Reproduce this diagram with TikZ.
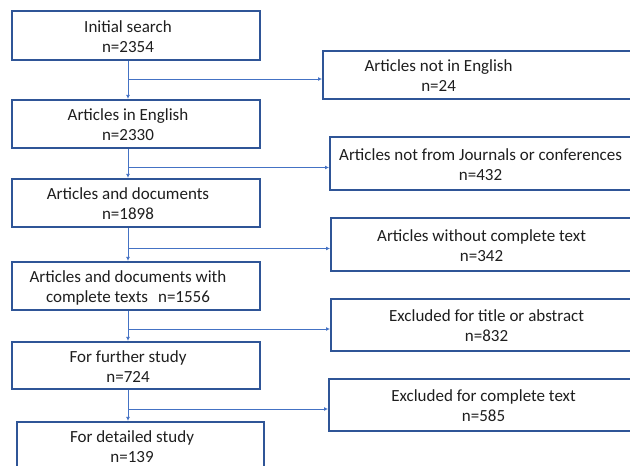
\documentclass[tikz,border=0pt]{standalone}
\usepackage{fontspec}
\setmainfont{Carlito}
\usetikzlibrary{arrows.meta}
\definecolor{boxblue}{RGB}{47,85,151}
\definecolor{lineblue}{RGB}{68,114,196}
\definecolor{ink}{RGB}{30,30,30}
\newcommand{\lines}[2]{\hspace*{#1}\raisebox{-2.5pt}[\height][\depth]{\begin{tabular}{@{}c@{}}#2\end{tabular}}}

\begin{document}
\begin{tikzpicture}[x=1pt, y=-1pt,
  stage/.style={draw=boxblue, line width=2.2pt, minimum width=248pt, minimum height=48pt,
    inner sep=0pt, font=\fontsize{17}{20}\selectfont, text=ink},
  drop/.style={stage, anchor=west, minimum width=315pt, minimum height=52pt},
  conn/.style={lineblue, line width=0.8pt, -{Latex[length=4pt,width=4pt]}}]
  \useasboundingbox (0,0) rectangle (630,466);
  \clip (0,0) rectangle (630,466);

  % Stages kept for the review
  \node[stage, minimum height=49pt] (b1) at (136,35.5) {\lines{-16pt}{Initial search\\n=2354}};
  \node[stage] (b2) at (136,124) {\lines{-16pt}{Articles in English\\n=2330}};
  \node[stage] (b3) at (136,203) {\lines{-16pt}{Articles and documents\\n=1898}};
  \node[stage] (b4) at (136,286) {\lines{-16pt}{Articles and documents with\\complete texts\hspace{10pt}n=1556}};
  \node[stage, minimum height=47pt] (b5) at (136,365.5) {\lines{-16pt}{For further study\\n=724}};
  \node[stage, minimum width=247pt] (b6) at (140.5,446) {\lines{-17pt}{For detailed study\\n=139}};

  % Records dropped at each step
  \node[drop, minimum height=48pt] (r1) at (322,75) {\lines{-84pt}{Articles not in English\\n=24}};
  \node[drop, minimum height=53pt] (r2) at (329,163.5) {\lines{-14pt}{Articles not from Journals or conferences\\n=432}};
  \node[drop, minimum height=53pt] (r3) at (330,244.5) {\lines{-14pt}{Articles without complete text\\n=342}};
  \node[drop] (r4) at (330,325) {\lines{-4pt}{Excluded for title or abstract\\n=832}};
  \node[drop] (r5) at (328,405) {\lines{-6pt}{Excluded for complete text\\n=585}};

  % Flow lines
  \coordinate (spine) at (128,0);
  \foreach \a/\b in {b1/b2,b2/b3,b3/b4,b4/b5,b5/b6}
    \draw[conn] (spine |- \a.south) -- (spine |- \b.north);
  \foreach \r in {1,...,5} {
    \coordinate (in\r) at ([yshift=-4pt]r\r.west);
    \draw[conn] (spine |- in\r) -- (in\r);
  }
\end{tikzpicture}
\end{document}
